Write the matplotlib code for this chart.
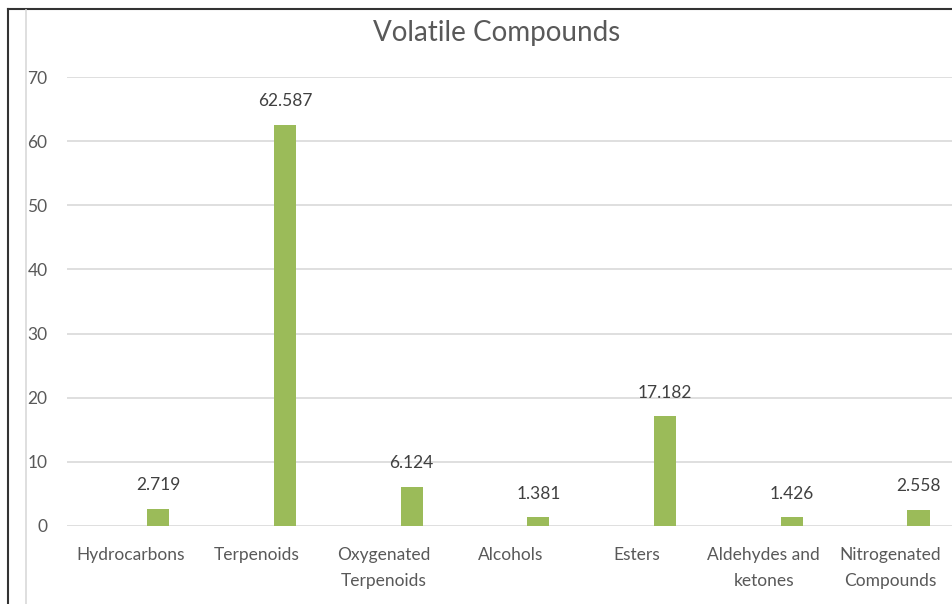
import numpy as np
import matplotlib.pyplot as plt
from matplotlib.lines import Line2D

categories = ["Hydrocarbons", "Terpenoids", "Oxygenated\nTerpenoids", "Alcohols",
              "Esters", "Aldehydes and\nketones", "Nitrogenated\nCompounds"]
values = [2.719, 62.587, 6.124, 1.381, 17.182, 1.426, 2.558]
value_labels = ["2.719", "62.587", "6.124", "1.381", "17.182", "1.426", "2.558"]
yticks = [0, 10, 20, 30, 40, 50, 60, 70]

plt.rcParams["font.family"] = ["Lato", "DejaVu Sans"]
grey = "#595959"

fig = plt.figure(figsize=(9.52, 6.04), dpi=100)
ax = fig.add_axes([67 / 952, 1 - 526 / 604, 1 - 67 / 952 + 0.002, (526 - 77) / 604])

x = np.arange(len(categories))
bars = ax.bar(x + 0.22, values, width=0.175, color="#9bbb59", zorder=3)
for b, lab in zip(bars, value_labels):
    ax.annotate(lab, (b.get_x() + b.get_width() / 2, b.get_height()),
                xytext=(0, 11), textcoords="offset points", ha="center",
                va="bottom", fontsize=12.5, color="#404040")

ax.set_xlim(-0.5, len(categories) - 0.5)
ax.set_ylim(0, 70)
ax.set_yticks(yticks)
ax.set_xticks(x)
ax.set_xticklabels(categories, fontsize=12.5, color=grey, linespacing=1.75)
ax.tick_params(axis="y", labelsize=12.5, labelcolor=grey, length=0, pad=14)
ax.tick_params(axis="x", length=0, pad=15)
ax.grid(axis="y", color="#d9d9d9", linewidth=1.2, zorder=0)
for s in ax.spines.values():
    s.set_visible(False)

fig.text(497 / 952, 1 - 33 / 604, "Volatile Compounds", ha="center", va="center",
         fontsize=20, color=grey)

# frame lines of the screenshot
fig.add_artist(Line2D([8 / 952, 8 / 952], [0, 1 - 9 / 604], color="#333333", lw=1.5))
fig.add_artist(Line2D([8 / 952, 1], [1 - 9 / 604, 1 - 9 / 604], color="#333333", lw=1.5))
fig.add_artist(Line2D([25.5 / 952, 25.5 / 952], [0, 1 - 10 / 604], color="#d9d9d9", lw=1.2))

fig.savefig("out.png", dpi=100)
